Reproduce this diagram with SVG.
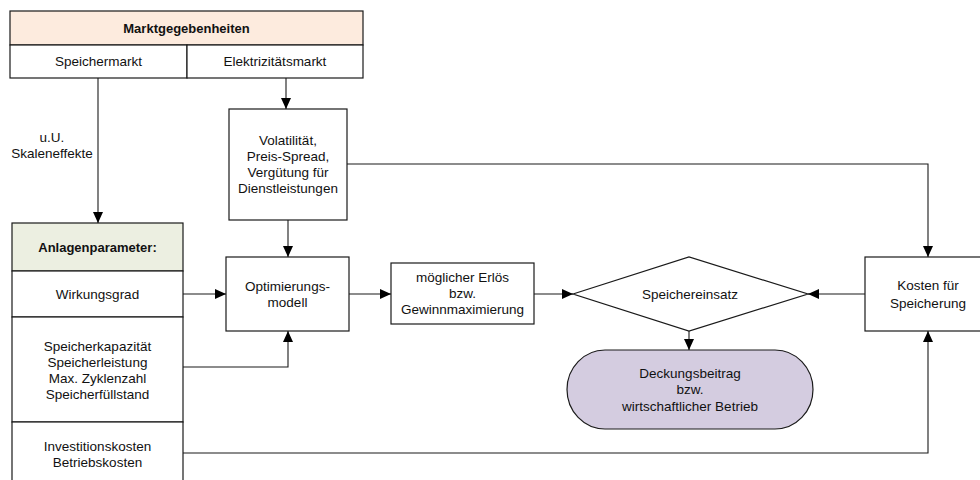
<svg xmlns="http://www.w3.org/2000/svg" width="980" height="480" viewBox="0 0 980 480">
<defs>
<style>
text{font-family:"Liberation Sans",Arial,sans-serif;font-size:13.5px;fill:#111;text-anchor:middle}
.b{font-weight:bold;font-size:13px}
.box{fill:#fff;stroke:#1a1a1a;stroke-width:1.2}
.edge{fill:none;stroke:#1a1a1a;stroke-width:1.1}
</style>
<marker id="ah" markerUnits="userSpaceOnUse" markerWidth="12" markerHeight="10" refX="11" refY="5" orient="auto">
<path d="M0,0 L11,5 L0,10 z" fill="#000"/>
</marker>
</defs>
<rect width="980" height="480" fill="#fff"/>

<g id="markt">
<rect class="box" x="10" y="11" width="353" height="34" style="fill:#fdebde"/>
<rect class="box" x="10" y="45" width="177" height="33"/>
<rect class="box" x="187" y="45" width="176" height="33"/>
<text class="b" x="186.5" y="32.5">Marktgegebenheiten</text>
<text x="98.5" y="65.5">Speichermarkt</text>
<text x="275" y="65.5">Elektrizitätsmarkt</text>
</g>

<g id="volatilitaet">
<rect class="box" x="229" y="109" width="118" height="111"/>
<text x="288" y="145">Volatilität,</text>
<text x="288" y="161">Preis-Spread,</text>
<text x="288" y="177">Vergütung für</text>
<text x="288" y="193">Dienstleistungen</text>
</g>

<g id="anlagen">
<rect class="box" x="12" y="223" width="171" height="48" style="fill:#ecefe1"/>
<rect class="box" x="12" y="271" width="171" height="46"/>
<rect class="box" x="12" y="317" width="171" height="105"/>
<rect class="box" x="12" y="422" width="171" height="70"/>
<text class="b" x="97.5" y="251.5">Anlagenparameter:</text>
<text x="97.5" y="298.5">Wirkungsgrad</text>
<text x="97.5" y="350.5">Speicherkapazität</text>
<text x="97.5" y="366.5">Speicherleistung</text>
<text x="97.5" y="382.5">Max. Zyklenzahl</text>
<text x="97.5" y="398.5">Speicherfüllstand</text>
<text x="97.5" y="450.5">Investitionskosten</text>
<text x="97.5" y="466.5">Betriebskosten</text>
</g>

<g id="optimierung">
<rect class="box" x="226" y="257" width="123" height="74"/>
<text x="287.5" y="290.5">Optimierungs-</text>
<text x="287.5" y="306.5">modell</text>
</g>

<g id="erloes">
<rect class="box" x="391" y="263" width="143" height="61"/>
<text x="462.5" y="281.5">möglicher Erlös</text>
<text x="462.5" y="297.5">bzw.</text>
<text x="462.5" y="313.5">Gewinnmaximierung</text>
</g>

<g id="speichereinsatz">
<polygon class="box" points="573,294 689,257 808,294 689,331"/>
<text x="690" y="298.5">Speichereinsatz</text>
</g>

<g id="kosten">
<rect class="box" x="865" y="257" width="130" height="74"/>
<text x="928" y="289.5">Kosten für</text>
<text x="928" y="307.5">Speicherung</text>
</g>

<g id="deckung">
<rect x="567" y="350" width="246" height="79" rx="38" ry="39.5" style="fill:#d4cce0;stroke:#1a1a1a;stroke-width:1.2"/>
<text x="690" y="377.5">Deckungsbeitrag</text>
<text x="690" y="394">bzw.</text>
<text x="690" y="411">wirtschaftlicher Betrieb</text>
</g>

<g id="connectors">
<path class="edge" d="M98,78 V223" marker-end="url(#ah)"/>
<path class="edge" d="M286,78 V109" marker-end="url(#ah)"/>
<path class="edge" d="M288,220 V257" marker-end="url(#ah)"/>
<path class="edge" d="M183,294 H226" marker-end="url(#ah)"/>
<path class="edge" d="M183,367 H288 V331" marker-end="url(#ah)"/>
<path class="edge" d="M349,294 H391" marker-end="url(#ah)"/>
<path class="edge" d="M534,294 H573" marker-end="url(#ah)"/>
<path class="edge" d="M865,294 H808" marker-end="url(#ah)"/>
<path class="edge" d="M347,164 H928 V257" marker-end="url(#ah)"/>
<path class="edge" d="M183,453 H928 V331" marker-end="url(#ah)"/>
<path class="edge" d="M689,331 V350" marker-end="url(#ah)"/>
<text x="52" y="141.5">u.U.</text>
<text x="52" y="158">Skaleneffekte</text>
</g>
</svg>
